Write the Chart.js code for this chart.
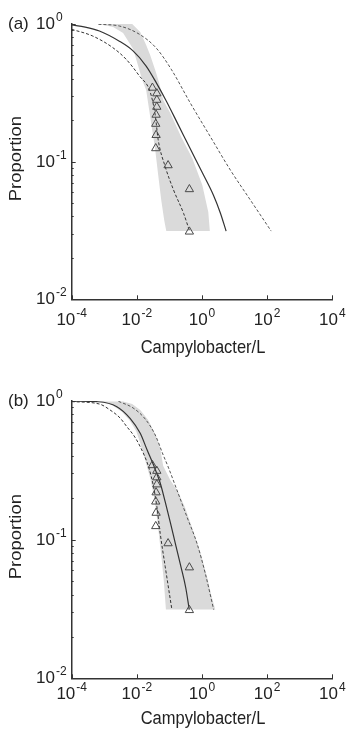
<!DOCTYPE html>
<html>
<head>
<meta charset="utf-8">
<script src="https://cdn.jsdelivr.net/npm/chart.js@4/dist/chart.umd.min.js"></script>
<style>
  html, body { margin: 0; padding: 0; background: #fff; }
  #wrap { position: relative; width: 346px; height: 730px; overflow: hidden; }
  canvas { position: absolute; left: 0; }
  #chartA { top: 0; }
  #chartB { top: 365px; }
</style>
</head>
<body>
<div id="wrap">
  <canvas id="chartA" width="346" height="365"></canvas>
  <canvas id="chartB" width="346" height="365"></canvas>
</div>
<script>
// axis ticks (decades) and their exponents
const xTicks = [1e-4, 1e-2, 1, 1e2, 1e4];
const xTickExp = ['-4', '-2', '0', '2', '4'];
const yTicks = [1e-2, 1e-1, 1];
const yTickExp = ['-2', '-1', '0'];

// observed proportions (triangles), same in both panels
const obsX = [0.030, 0.041, 0.041, 0.041, 0.039, 0.038, 0.039, 0.038, 0.091, 0.41, 0.41];
const obsY = [0.344, 0.313, 0.281, 0.250, 0.219, 0.188, 0.156, 0.125, 0.094, 0.063, 0.031];

// panel (a)
const solidAX = [1e-4, 2.6e-4, 7.1e-4, 2.9e-3, 7.5e-3, 0.0193, 0.0393, 0.080, 0.187, 0.436, 1.0, 2.23, 3.66, 5.5];
const solidAY = [0.983, 0.95, 0.89, 0.75, 0.64, 0.495, 0.375, 0.276, 0.185, 0.124, 0.0841, 0.0573, 0.0424, 0.0313];
const lowerAX = [1e-4, 4.4e-4, 1.83e-3, 4.7e-3, 0.012, 0.0256, 0.0366, 0.0452, 0.0743, 0.134, 0.272, 0.415];
const lowerAY = [0.915, 0.818, 0.673, 0.554, 0.419, 0.321, 0.218, 0.144, 0.0919, 0.0622, 0.0421, 0.0313];
const upperAX = [6.6e-4, 2.9e-3, 0.012, 0.039, 0.113, 0.436, 1.8, 7.4, 30.6, 133];
const upperAY = [0.995, 0.967, 0.842, 0.67, 0.47, 0.267, 0.152, 0.087, 0.0526, 0.0313];
const bandAX = [6.9e-4, 1.87e-3, 3.78e-3, 7.7e-3, 0.011, 0.0146, 0.0193, 0.0239, 0.0296, 0.0366, 0.0452, 0.056, 0.069, 0.08,
                1.74, 1.56, 1.02, 0.504, 0.231, 0.106, 0.0644, 0.0485, 0.0366, 0.0256, 0.0193, 0.0127, 7.2e-3];
const bandAY = [1.0, 0.951, 0.86, 0.658, 0.495, 0.392, 0.332, 0.237, 0.17, 0.122, 0.08, 0.0526, 0.0377, 0.0313,
                0.0313, 0.043, 0.0677, 0.106, 0.151, 0.226, 0.28, 0.373, 0.463, 0.595, 0.704, 0.875, 1.0];

// panel (b)
const solidBX = [1e-4, 6.6e-4, 2.43e-3, 6.2e-3, 0.0127, 0.0207, 0.0325, 0.0521, 0.0743, 0.106, 0.156, 0.231, 0.318, 0.406];
const solidBY = [0.998, 0.988, 0.91, 0.75, 0.585, 0.443, 0.345, 0.256, 0.187, 0.134, 0.0914, 0.0624, 0.0448, 0.0313];
const lowerBX = [1e-4, 7.1e-4, 1.51e-3, 3.06e-3, 4.92e-3, 8.26e-3, 0.0127, 0.0228, 0.0325, 0.0412, 0.0521, 0.0743, 0.119];
const lowerBY = [0.99, 0.951, 0.861, 0.754, 0.653, 0.559, 0.468, 0.336, 0.241, 0.173, 0.111, 0.0638, 0.0313];
const upperBX = [2.72e-3, 7.7e-3, 0.018, 0.0366, 0.0644, 0.0918, 0.17, 0.345, 0.701, 1.26, 2.28];
const upperBY = [0.995, 0.89, 0.742, 0.569, 0.408, 0.334, 0.228, 0.146, 0.094, 0.0571, 0.0313];
const bandBX = [7.43e-4, 1.74e-3, 3.53e-3, 6.2e-3, 9.5e-3, 0.0127, 0.018, 0.0256, 0.0329, 0.0393, 0.0469, 0.056, 0.0668, 0.078,
                2.56, 1.93, 1.46, 0.888, 0.504, 0.306, 0.187, 0.106, 0.0644, 0.0521, 0.0366, 0.0223, 0.0127, 7.2e-3, 3.8e-3];
const bandBY = [0.99, 0.936, 0.833, 0.717, 0.608, 0.498, 0.375, 0.278, 0.21, 0.158, 0.112, 0.0774, 0.0512, 0.0313,
                0.0313, 0.0398, 0.0528, 0.0814, 0.121, 0.169, 0.22, 0.269, 0.34, 0.458, 0.578, 0.73, 0.861, 0.951, 0.99];

const FONT = "'Liberation Sans', Arial, sans-serif";
const INK = '#222';

const pts = (xs, ys) => xs.map((x, i) => ({ x: x, y: ys[i] }));

function drawPow(ctx, x, baseline, exp, align) {
    ctx.font = '17px ' + FONT;
    const wBase = ctx.measureText('10').width;
    ctx.font = '12px ' + FONT;
    const wExp = ctx.measureText(exp).width;
    let left = x;
    if (align === 'center') left = x - (wBase + wExp + 1) / 2;
    ctx.font = '17px ' + FONT;
    ctx.fillText('10', left, baseline);
    ctx.font = '12px ' + FONT;
    ctx.fillText(exp, left + wBase + 1, baseline - 8);
}

// axes decorations: inward ticks, power-of-ten labels, titles, panel letter
const decor = {
    id: 'decor',
    afterDraw(chart, args, opts) {
        const { ctx, chartArea: a, scales: { x, y } } = chart;
        ctx.save();
        ctx.strokeStyle = '#333';
        ctx.lineWidth = 1;
        ctx.beginPath();
        xTicks.forEach(v => {
            const px = Math.round(x.getPixelForValue(v)) + 0.5;
            ctx.moveTo(px, a.bottom);
            ctx.lineTo(px, a.bottom - 4);
        });
        yTicks.forEach((v, i) => {
            const py = Math.round(y.getPixelForValue(v)) + 0.5;
            ctx.moveTo(a.left, py);
            ctx.lineTo(a.left + 4, py);
            if (i < yTicks.length - 1) {
                for (let m = 2; m <= 9; m++) {
                    const q = Math.round(y.getPixelForValue(v * m)) + 0.5;
                    ctx.moveTo(a.left, q);
                    ctx.lineTo(a.left + 2, q);
                }
            }
        });
        ctx.stroke();

        ctx.fillStyle = INK;
        ctx.textAlign = 'left';
        ctx.textBaseline = 'alphabetic';
        xTicks.forEach((v, i) => {
            drawPow(ctx, x.getPixelForValue(v), a.bottom + opts.tickOff + 6, xTickExp[i], 'center');
        });
        yTicks.forEach((v, i) => {
            drawPow(ctx, 36, y.getPixelForValue(v) + 5, yTickExp[i], 'left');
        });

        ctx.font = '17px ' + FONT;
        ctx.fillText(opts.letter, 8, y.getPixelForValue(1) + 5);

        ctx.textAlign = 'center';
        ctx.textBaseline = 'middle';
        ctx.font = '16.5px ' + FONT;
        ctx.save();
        ctx.translate((a.left + a.right) / 2 + 1, a.bottom + opts.titleOff);
        ctx.scale(1, 1.12);
        ctx.fillText('Campylobacter/L', 0, 0);
        ctx.restore();

        ctx.save();
        ctx.translate(16, (a.top + a.bottom) / 2 - 3);
        ctx.scale(1, 1.12);
        ctx.rotate(-Math.PI / 2);
        ctx.fillText('Proportion', 0, 0);
        ctx.restore();
        ctx.restore();
    }
};

function makeChart(id, cfg) {
    const curve = (xs, ys, dash, color, width) => ({
        data: pts(xs, ys),
        showLine: true,
        borderColor: color,
        borderWidth: width,
        borderDash: dash,
        pointRadius: 0,
        cubicInterpolationMode: 'monotone',
        fill: false,
        order: 1
    });
    return new Chart(document.getElementById(id), {
        type: 'scatter',
        data: {
            datasets: [
                {
                    data: pts(obsX, obsY),
                    pointStyle: 'triangle',
                    pointRadius: 4.8,
                    borderColor: '#4a4a4a',
                    borderWidth: 1,
                    backgroundColor: 'rgba(0,0,0,0)',
                    order: 0
                },
                curve(cfg.solid[0], cfg.solid[1], [], '#333', 1.2),
                curve(cfg.lower[0], cfg.lower[1], [3, 2], '#333', 1),
                curve(cfg.upper[0], cfg.upper[1], [3, 2], '#555', 1),
                {
                    data: pts(cfg.band[0], cfg.band[1]),
                    showLine: true,
                    fill: 'shape',
                    backgroundColor: '#dadada',
                    borderWidth: 0,
                    borderColor: 'rgba(0,0,0,0)',
                    pointRadius: 0,
                    tension: 0,
                    order: 5
                }
            ]
        },
        options: {
            responsive: false,
            animation: false,
            events: [],
            layout: { padding: { top: cfg.top, right: 13.7, left: 0, bottom: 0 } },
            plugins: {
                legend: { display: false },
                tooltip: { enabled: false },
                decor: { letter: cfg.letter, tickOff: cfg.tickOff, titleOff: cfg.titleOff }
            },
            scales: {
                x: {
                    type: 'logarithmic',
                    min: 1e-4,
                    max: 1e4,
                    ticks: { display: false },
                    grid: { display: false },
                    border: { display: true, color: '#333', width: 1.5 },
                    afterFit(s) { s.height = cfg.xAxisH; }
                },
                y: {
                    type: 'logarithmic',
                    min: 1e-2,
                    max: 1,
                    ticks: { display: false },
                    grid: { display: false },
                    border: { display: true, color: '#333', width: 1.5 },
                    afterFit(s) { s.width = 71.7; }
                }
            }
        },
        plugins: [decor]
    });
}

makeChart('chartA', {
    letter: '(a)', top: 24, xAxisH: 65.7, tickOff: 19.5, titleOff: 49,
    solid: [solidAX, solidAY], lower: [lowerAX, lowerAY], upper: [upperAX, upperAY], band: [bandAX, bandAY]
});
makeChart('chartB', {
    letter: '(b)', top: 36, xAxisH: 51.7, tickOff: 15, titleOff: 41,
    solid: [solidBX, solidBY], lower: [lowerBX, lowerBY], upper: [upperBX, upperBY], band: [bandBX, bandBY]
});
</script>
</body>
</html>
